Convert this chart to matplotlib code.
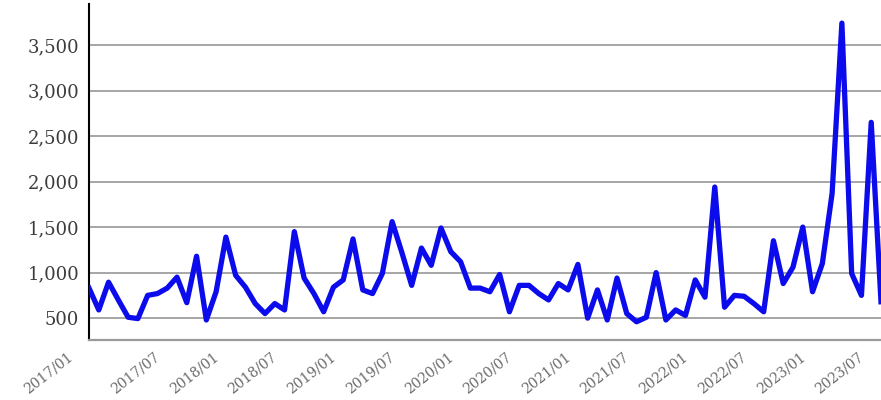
#######################################
# IMPORTS #############################
#######################################

import matplotlib
matplotlib.use("Agg")
import matplotlib.pyplot as plt
import matplotlib.transforms as mtransforms
from matplotlib.ticker import FuncFormatter
import numpy as np
import pandas as pd

plt.rcParams.update({
    "font.family": ["DejaVu Serif"],
    "font.size": 12,
})


#######################################
# Data ################################
#######################################

# Monthly values, 2017/01 - 2023/10
values_2017 = [830, 590, 895, 700, 510, 495, 750, 770, 830, 950, 670, 1180]
values_2018 = [480, 790, 1390, 970, 840, 660, 550, 660, 590, 1450, 940, 770]
values_2019 = [570, 840, 920, 1370, 810, 770, 990, 1560, 1220, 860, 1270, 1080]
values_2020 = [1490, 1230, 1120, 830, 830, 790, 980, 570, 860, 860, 770, 700]
values_2021 = [880, 810, 1090, 500, 810, 480, 940, 550, 460, 510, 1000, 480]
values_2022 = [590, 530, 920, 730, 1940, 620, 750, 740, 660, 570, 1350, 880]
values_2023 = [1060, 1500, 790, 1100, 1870, 3740, 990, 750, 2650, 680]

values = values_2017 + values_2018 + values_2019 + values_2020 + values_2021 + values_2022 + values_2023
months = pd.date_range("2017-01-01", periods=len(values), freq="MS")
month_labels = months.strftime("%Y/%m")

# label every 6 months
tick_idx = np.arange(0, len(values), 6)
tick_labels = [month_labels[i] for i in tick_idx]

y_ticks = [500, 1000, 1500, 2000, 2500, 3000, 3500]


#######################################
# Plotting ############################
#######################################

fig = plt.figure(figsize=(8.81, 4.0), dpi=100)
ax = fig.add_axes([89 / 881, 60 / 400, 792 / 881, 336 / 400])

x = np.arange(len(values))
ax.plot(x, values, color="#0b0bec", linewidth=3.8, solid_joinstyle="round", zorder=3)

ax.set_xlim(0, len(values) - 1)
ax.set_ylim(260, 3950)

# Grids
ax.set_yticks(y_ticks)
ax.yaxis.set_major_formatter(FuncFormatter(lambda v, p: f"{int(v):,}"))
ax.grid(which="major", axis="y", color="#a6a6a6", linewidth=1.4, zorder=1)

ax.set_xticks(tick_idx)
ax.set_xticklabels(tick_labels, rotation=38, ha="right", va="top",
                   rotation_mode="anchor", fontsize=10, color="#6a6a6a")
ax.tick_params(axis="x", length=0, pad=7)
ax.tick_params(axis="y", length=0, pad=7, labelsize=13, labelcolor="#3c3c3c")

# nudge the x labels a bit to the right (the first one sits further left)
for i, lbl in enumerate(ax.get_xticklabels()):
    dx = -22 if i == 0 else 6
    offset = mtransforms.ScaledTranslation(dx / 100, 0, fig.dpi_scale_trans)
    lbl.set_transform(lbl.get_transform() + offset)

# Spines
ax.spines["top"].set_visible(False)
ax.spines["right"].set_visible(False)
ax.spines["left"].set_color("black")
ax.spines["left"].set_linewidth(1.5)
ax.spines["bottom"].set_color("#9a9a9a")
ax.spines["bottom"].set_linewidth(1.6)


#######################################
# Export ##############################
#######################################

fig.savefig("out.png", dpi=100, facecolor="white")
